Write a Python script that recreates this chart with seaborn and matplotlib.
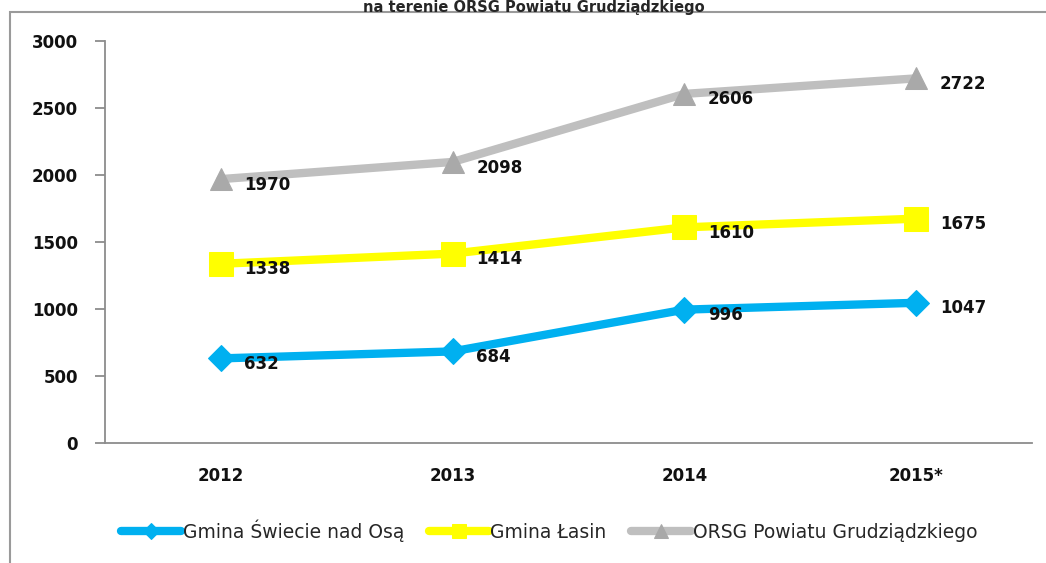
import pandas as pd
import numpy as np
import seaborn as sns
import matplotlib.pyplot as plt
from matplotlib.patches import Rectangle

#DATA
years = ["2012", "2013", "2014", "2015*"]
swiecie = [632, 684, 996, 1047]
lasin = [1338, 1414, 1610, 1675]
orsg = [1970, 2098, 2606, 2722]
series_names = ["Gmina Świecie nad Osą", "Gmina Łasin", "ORSG Powiatu Grudziądzkiego"]
title_line = "na terenie ORSG Powiatu Grudziądzkiego"

df = pd.DataFrame({
    "rok": years * 3,
    "wartosc": swiecie + lasin + orsg,
    "seria": [series_names[0]] * 4 + [series_names[1]] * 4 + [series_names[2]] * 4,
})

#STYLE
sns.set_style("white")
plt.rcParams["font.family"] = ["DejaVu Sans"]
colors = {series_names[0]: "#00B0F0", series_names[1]: "#FFFF00", series_names[2]: "#BFBFBF"}
mcolors = {series_names[0]: "#00B0F0", series_names[1]: "#FFFF00", series_names[2]: "#A9A9A9"}
markers = {series_names[0]: "D", series_names[1]: "s", series_names[2]: "^"}
msizes = {series_names[0]: 13, series_names[1]: 17, series_names[2]: 16}

fig = plt.figure(figsize=(10.46, 5.63), dpi=100)
ax = fig.add_axes([0.100, 0.213, 0.887, 0.714])

for name in series_names:
    sub = df[df["seria"] == name]
    sns.lineplot(data=sub, x="rok", y="wartosc", ax=ax, color=colors[name],
                 lw=6, marker=markers[name], markersize=msizes[name],
                 markerfacecolor=mcolors[name], markeredgecolor=mcolors[name],
                 label=name, sort=False)

#DATA LABELS
for name in series_names:
    sub = df[df["seria"] == name].reset_index(drop=True)
    for i, v in enumerate(sub["wartosc"]):
        ax.annotate(f"{v}", (i, v), xytext=(17, -4), textcoords="offset points",
                    ha="left", va="center", fontsize=12, fontweight="bold", color="#111111")

#AXES
ax.set_ylim(0, 3000)
ax.set_yticks(range(0, 3001, 500))
ax.set_xlim(-0.5, 3.5)
ax.set_xlabel("")
ax.set_ylabel("")
for s in ["top", "right"]:
    ax.spines[s].set_visible(False)
for s in ["left", "bottom"]:
    ax.spines[s].set_color("#8C8C8C")
    ax.spines[s].set_linewidth(1.3)
ax.tick_params(axis="y", which="both", left=True, length=7, color="#8C8C8C", width=1.3, pad=12)
ax.tick_params(axis="x", which="both", bottom=False, pad=14)
for t in ax.get_yticklabels() + ax.get_xticklabels():
    t.set_fontweight("bold")
    t.set_fontsize(12)
    t.set_color("#111111")

#LEGEND
handles, labels = ax.get_legend_handles_labels()
ax.get_legend().remove()
fig.legend(handles, labels, loc="center", bbox_to_anchor=(0.525, 0.058), ncol=3,
           frameon=False, fontsize=13.5, handlelength=3.2, handletextpad=0.1,
           columnspacing=1.3, markerscale=0.6)

#FRAME + TITLE
fig.patches.append(Rectangle((10 / 1046, -0.2), 1.2, 1.2 - 12 / 563, transform=fig.transFigure,
                             fill=False, edgecolor="#9A9A9A", lw=1.5))
fig.text(0.51, 1.0, title_line, ha="center", va="top", fontsize=10.5, fontweight="bold")

plt.savefig("out.png", dpi=100)
